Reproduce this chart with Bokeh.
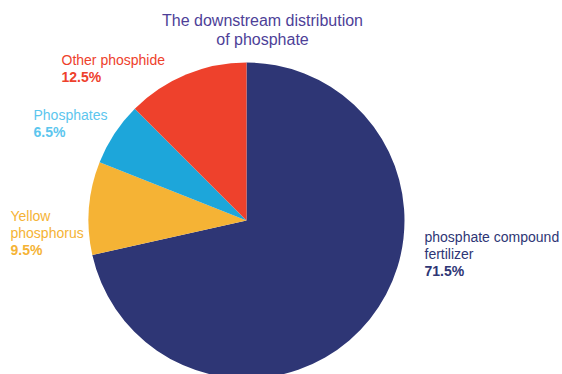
import numpy as np
from bokeh.plotting import figure
from bokeh.models import ColumnDataSource
from bokeh.core.properties import value
from bokeh.embed import file_html
from bokeh.resources import INLINE

# Shares of downstream phosphate use (percent), clockwise from 12 o'clock
categories = ["phosphate compound\nfertilizer", "Yellow\nphosphorus", "Phosphates", "Other phosphide"]
shares = [71.5, 9.5, 6.5, 12.5]
colors = ["#2E3675", "#F5B335", "#1DA6DA", "#EE412C"]
label_colors = ["#2E3675", "#F5B335", "#5CC6EE", "#EE412C"]

W, H = 562, 374
p = figure(width=W, height=H, x_range=(0, W), y_range=(0, H),
           output_backend="svg", toolbar_location=None, min_border=0)
p.axis.visible = False
p.grid.visible = False
p.outline_line_color = None
p.background_fill_color = "white"

cx, cy, r = 246, H - 220, 158
frac = np.array(shares) / sum(shares)
ends = np.pi / 2 - np.cumsum(frac) * 2 * np.pi
starts = np.concatenate([[np.pi / 2], ends[:-1]])
src = ColumnDataSource(dict(start=starts, end=ends, color=colors))
p.wedge(x=cx, y=cy, radius=r, radius_units="screen", start_angle="start", end_angle="end",
        direction="clock", fill_color="color", line_color=None, source=src)

font = value("Liberation Sans")
step = 17
# label position: left x and top of first line (from top) per slice
anchors = [(424, 228), (10, 207), (33, 106), (61, 51)]
for name, share, col, (lx, ly) in zip(categories, shares, label_colors, anchors):
    lines = name.split("\n")
    for i, line in enumerate(lines):
        p.text(x=[lx], y=[H - ly - i * step], text=[line], text_font=font, text_font_size="14px",
               text_color=col, text_baseline="top", text_align="left")
    p.text(x=[lx], y=[H - ly - len(lines) * step], text=[f"{share}%"], text_font=font,
           text_font_size="14px", text_font_style="bold", text_color=col,
           text_baseline="top", text_align="left")

title_lines = ["The downstream distribution", "of phosphate"]
for i, t in enumerate(title_lines):
    p.text(x=[262], y=[H - 11 - i * 19], text=[t], text_font=font, text_font_size="16px",
           text_color="#4E3F98", text_baseline="top", text_align="center")

open("out.html", "w").write(file_html(p, INLINE))
